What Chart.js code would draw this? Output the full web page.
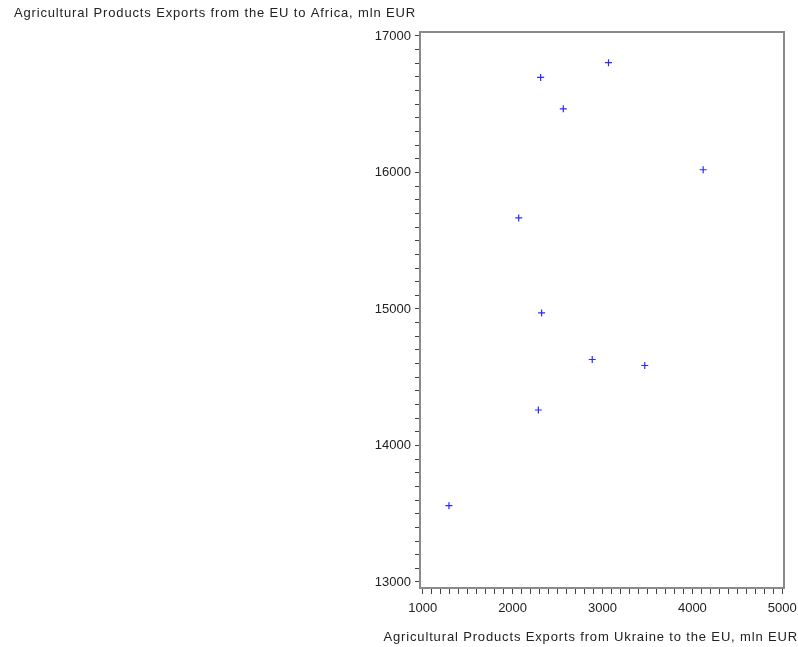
<!DOCTYPE html>
<html>
<head>
<meta charset="utf-8">
<script src="https://cdn.jsdelivr.net/npm/chart.js@4/dist/chart.umd.min.js"></script>
<style>
  html, body { margin: 0; padding: 0; background: #fff; }
  #wrap { width: 798px; height: 647px; }
</style>
</head>
<body>
<div id="wrap"><canvas id="c" width="798" height="647"></canvas></div>
<script>
// Exportations agricoles : Ukraine -> UE (x) contre UE -> Afrique (y), mln EUR
const ukraineToEu = [3067, 2312, 2564, 4120, 2068, 2323, 2886, 3470, 2287, 1292];
const euToAfrica = [16804, 16696, 16466, 16020, 15667, 14971, 14630, 14586, 14260, 13559];

const xTickLabels = [1000, 2000, 3000, 4000, 5000];
const yTickLabels = [13000, 14000, 15000, 16000, 17000];
const MINOR_STEP = 100;

const xTitle = 'Agricultural Products Exports from Ukraine to the EU, mln EUR';
const yTitle = 'Agricultural Products Exports from the EU to Africa, mln EUR';

// le cadre dépasse un peu la plage des graduations (comme le graphique d'origine)
const X_MIN = 970, X_MAX = 5019;
const Y_MIN = 12956, Y_MAX = 17029;

const FONT = 'Liberation Sans, Arial, sans-serif';

function minorTicks(labels) {
  const ticks = [];
  const lo = labels[0], hi = labels[labels.length - 1];
  for (let v = lo; v <= hi; v += MINOR_STEP) ticks.push({ value: v });
  return ticks;
}

// cadre gris + titres horizontaux
const framePlugin = {
  id: 'frame',
  afterDraw(chart) {
    const { ctx, chartArea: a } = chart;
    ctx.save();
    ctx.strokeStyle = '#8a8a8a';
    ctx.lineWidth = 2;
    ctx.strokeRect(a.left, a.top, a.right - a.left, a.bottom - a.top);

    ctx.fillStyle = '#222';
    ctx.font = '13px ' + FONT;
    ctx.letterSpacing = '0.85px';
    ctx.textBaseline = 'middle';
    ctx.textAlign = 'right';
    ctx.fillText(yTitle, a.left - 4, 13);
    ctx.fillText(xTitle, chart.width, 637);
    ctx.restore();
  },
};

new Chart(document.getElementById('c'), {
  type: 'scatter',
  data: {
    datasets: [{
      data: ukraineToEu.map((x, i) => ({ x, y: euToAfrica[i] })),
      pointStyle: 'cross',
      pointRadius: 3.5,
      borderColor: 'rgba(20, 20, 255, 0.9)',
      borderWidth: 1.2,
      backgroundColor: 'rgba(20, 20, 255, 0.9)',
    }],
  },
  options: {
    animation: false,
    responsive: false,
    layout: { padding: { top: 32, right: 14, left: 0, bottom: 0 } },
    plugins: { legend: { display: false }, title: { display: false }, tooltip: { enabled: false } },
    scales: {
      x: {
        type: 'linear',
        min: X_MIN,
        max: X_MAX,
        afterBuildTicks: (s) => { s.ticks = minorTicks(xTickLabels); },
        afterFit: (s) => { s.height = 59; s.paddingLeft = 0; s.paddingRight = 0; },
        border: { display: false },
        grid: { drawOnChartArea: false, drawTicks: true, tickLength: 6, tickColor: '#444', tickWidth: 1 },
        ticks: {
          autoSkip: false,
          maxRotation: 0,
          padding: 7,
          color: '#222',
          font: { family: FONT, size: 13 },
          callback: (v) => (xTickLabels.includes(v) ? String(v) : ''),
        },
      },
      y: {
        type: 'linear',
        min: Y_MIN,
        max: Y_MAX,
        afterBuildTicks: (s) => { s.ticks = minorTicks(yTickLabels); },
        afterFit: (s) => { s.width = 420; s.paddingTop = 0; s.paddingBottom = 0; },
        border: { display: false },
        grid: { drawOnChartArea: false, drawTicks: true, tickLength: 5, tickColor: '#444', tickWidth: 1 },
        ticks: {
          autoSkip: false,
          padding: 4,
          color: '#222',
          font: { family: FONT, size: 13 },
          callback: (v) => (yTickLabels.includes(v) ? String(v) : ''),
        },
      },
    },
  },
  plugins: [framePlugin],
});
</script>
</body>
</html>
